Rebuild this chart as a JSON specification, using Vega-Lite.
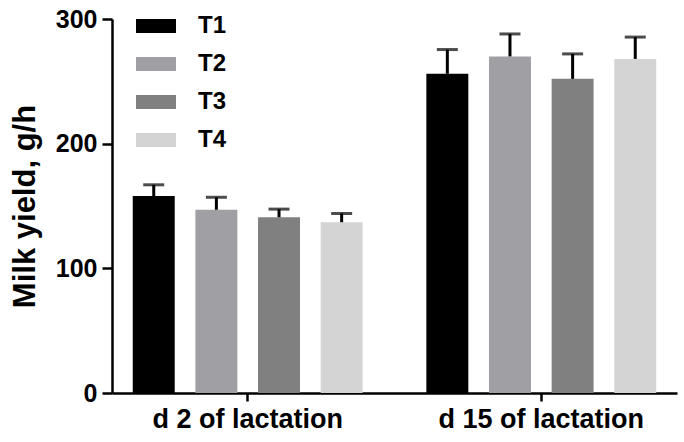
{
  "$schema": "https://vega.github.io/schema/vega-lite/v6.json",
  "width": 565,
  "height": 374,
  "autosize": {"type": "none"},
  "padding": {"left": 112, "top": 19, "right": 7, "bottom": 49},
  "background": "white",
  "data": {
    "values": [
      {"day": "d 2 of lactation", "group": "T1", "value": 158, "hi": 167},
      {"day": "d 2 of lactation", "group": "T2", "value": 147, "hi": 157},
      {"day": "d 2 of lactation", "group": "T3", "value": 141, "hi": 147.5},
      {"day": "d 2 of lactation", "group": "T4", "value": 137, "hi": 144},
      {"day": "d 15 of lactation", "group": "T1", "value": 256, "hi": 275.5},
      {"day": "d 15 of lactation", "group": "T2", "value": 270, "hi": 288},
      {"day": "d 15 of lactation", "group": "T3", "value": 252, "hi": 272},
      {"day": "d 15 of lactation", "group": "T4", "value": 268, "hi": 285.5}
    ]
  },
  "encoding": {
    "x": {
      "field": "day", "type": "nominal",
      "sort": ["d 2 of lactation", "d 15 of lactation"],
      "scale": {"paddingInner": 0.217, "paddingOuter": 0.0707},
      "axis": {"title": null, "labelAngle": 0, "labelFontSize": 27, "labelFontWeight": "bold",
               "labelFont": "Liberation Sans", "labelColor": "black", "labelPadding": 5, "labelLimit": 0, "labelOverlap": false,
               "domainColor": "black", "domainWidth": 2.5, "tickColor": "black", "tickWidth": 2.5, "tickSize": 8, "grid": false}
    },
    "xOffset": {
      "field": "group", "type": "nominal",
      "scale": {"paddingInner": 0.33, "paddingOuter": 0}
    }
  },
  "layer": [
    {
      "mark": {"type": "bar"},
      "encoding": {
        "y": {
          "field": "value", "type": "quantitative",
          "scale": {"domain": [0, 300], "nice": false},
          "axis": {"title": "Milk yield, g/h", "values": [0, 100, 200, 300], "grid": false,
                   "titleFont": "Liberation Sans", "titleFontSize": 31, "titleFontWeight": "bold", "titleColor": "black", "titlePadding": 14,
                   "labelFont": "Liberation Sans", "labelFontSize": 25, "labelFontWeight": "bold", "labelColor": "black", "labelPadding": 5,
                   "domainColor": "black", "domainWidth": 2.5, "tickColor": "black", "tickWidth": 2.5, "tickSize": 10}
        },
        "color": {
          "field": "group", "type": "nominal",
          "scale": {"domain": ["T1", "T2", "T3", "T4"], "range": ["#000000", "#a0a0a4", "#808080", "#d4d4d4"]},
          "legend": {
            "title": null, "orient": "none", "legendX": 24, "legendY": -13,
            "symbolType": "M-1,-0.35H1V0.35H-1Z", "symbolSize": 1600, "symbolStrokeWidth": 0,
            "labelFont": "Liberation Sans", "labelFontSize": 24, "labelFontWeight": "bold", "labelColor": "black",
            "labelOffset": 22, "rowPadding": 6, "padding": 0
          }
        }
      }
    },
    {
      "mark": {"type": "rule", "color": "black", "strokeWidth": 3},
      "encoding": {
        "y": {"field": "value", "type": "quantitative"},
        "y2": {"field": "hi"}
      }
    },
    {
      "mark": {"type": "tick", "color": "black", "thickness": 3, "size": 21, "orient": "horizontal"},
      "encoding": {
        "y": {"field": "hi", "type": "quantitative"}
      }
    }
  ],
  "config": {"view": {"stroke": null}}
}
